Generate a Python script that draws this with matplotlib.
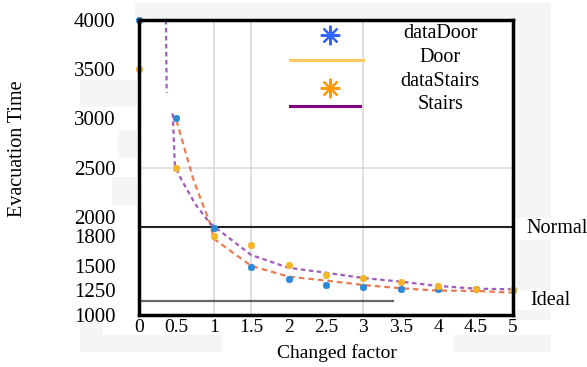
import numpy as np
import matplotlib
matplotlib.use("Agg")
import matplotlib.pyplot as plt
from matplotlib.patches import Rectangle
import matplotlib.transforms as mtransforms

# ---- data ----
x_data = [0, 0.5, 1, 1.5, 2, 2.5, 3, 3.5, 4, 4.5, 5]
data_door = [4000, 3000, 1880, 1491, 1366, 1310, 1288, 1268, 1268, 1268, 1250]
data_stairs = [3500, 2500, 1800, 1712, 1508, 1407, 1376, 1339, 1295, 1268, 1258]

door_x = [0.5, 0.73, 0.95, 1.0, 1.5, 2, 2.5, 3, 3.5, 4, 4.5, 5]
door_y = [2980, 2370, 1932, 1775, 1500, 1390, 1350, 1305, 1272, 1248, 1245, 1227]

stairs_x = [0.36, 0.37, np.nan, 0.45, 0.48, 0.57, 0.75, 0.95, 1.5, 2, 2.5, 3, 3.5, 4, 4.5, 5]
stairs_y = [4000, 3260, np.nan, 3050, 2510, 2373, 2130, 1932, 1610, 1480, 1430, 1376, 1339, 1295, 1268, 1261]

normal_level = 1890
ideal_level = 1140
ideal_span = [0, 3.4]

x_ticks = [0, 0.5, 1, 1.5, 2, 2.5, 3, 3.5, 4, 4.5, 5]
x_ticklabels = ["0", "0.5", "1", "1.5", "2", "2.5", "3", "3.5", "4", "4.5", "5"]
y_ticks = [1000, 1250, 1500, 1800, 2000, 2500, 3000, 3500, 4000]
y_ticklabels = ["1000", "1250", "1500", "1800", "2000", "2500", "3000", "3500", "4000"]
grid_x = [1, 1.5, 3]
grid_y = [2500]

legend_labels = ["dataDoor", "Door", "dataStairs", "Stairs"]

# ---- figure ----
W, H = 587, 367
plt.rcParams['font.family'] = ['Liberation Serif', 'DejaVu Serif']
fig = plt.figure(figsize=(W / 100, H / 100), dpi=100)
fig.patch.set_facecolor('white')

def px_rect(x0, y0, x1, y1, color='#f5f5f5'):
    r = Rectangle((x0 / W, 1 - y1 / H), (x1 - x0) / W, (y1 - y0) / H,
                  transform=fig.transFigure, facecolor=color, edgecolor='none', zorder=-5)
    fig.patches.append(r)

# light grey background patches
px_rect(135, 3, 551, 20)
px_rect(80, 80, 137, 107)
px_rect(118, 130, 137, 158)
px_rect(112, 177, 137, 205)
px_rect(80, 320, 103, 352)
px_rect(80, 335, 222, 352)
px_rect(454, 335, 551, 352)
px_rect(514, 20, 551, 218)
px_rect(514, 240, 551, 290)
px_rect(514, 310, 551, 320)

ax = fig.add_axes([139 / W, 1 - 315 / H, (513 - 139) / W, (315 - 20) / H])
ax.set_xlim(0, 5)
ax.set_ylim(1000, 4000)

for gx in grid_x:
    ax.axvline(gx, color='#d9d9d9', lw=1.2, zorder=1)
for gy in grid_y:
    ax.axhline(gy, color='#dcdcdc', lw=1.2, zorder=1)

ax.axhline(normal_level, color='#222222', lw=1.5, zorder=2)
ax.plot(ideal_span, [ideal_level, ideal_level], color='#333333', lw=1.6, alpha=0.75, zorder=2)

ax.plot(door_x, door_y, color='#ef7a4d', lw=1.6, ls=(0, (2.5, 1.8)), zorder=3)
ax.plot(stairs_x, stairs_y, color='#a05bbd', lw=1.6, ls=(0, (2.0, 1.6)), zorder=3)

ax.plot(x_data, data_door, ls='none', marker=(8, 2, 0), ms=5, mew=1.3,
        color='#2f8ad6', zorder=4, clip_on=False)
ax.plot(x_data, data_stairs, ls='none', marker=(8, 2, 0), ms=5, mew=1.3,
        color='#f5b52a', zorder=4, clip_on=False)

# legend (manual layout to mimic the reference)
tA = ax.transAxes
ax.plot([0.511], [0.949], transform=tA, marker=(8, 2, 0), ms=14, mew=1.6,
        color='#3366ff', ls='none', clip_on=False, zorder=5)
ax.plot([0.404, 0.599], [0.864, 0.864], transform=tA, color='#ffc862', lw=2.2,
        clip_on=False, zorder=5)
ax.plot([0.511], [0.769], transform=tA, marker=(8, 2, 0), ms=14, mew=1.6,
        color='#ff9a00', ls='none', clip_on=False, zorder=5)
ax.plot([0.404, 0.591], [0.708, 0.708], transform=tA, color='#800080', lw=2.2,
        clip_on=False, zorder=5)
for lab, yy in zip(legend_labels, [0.953, 0.873, 0.790, 0.712]):
    ax.text(0.805, yy, lab, transform=tA, ha='center', va='center', fontsize=14.5)

# Normal / Ideal labels
blend = mtransforms.blended_transform_factory(ax.transAxes, ax.transData)
ax.text(1.036, 1875, "Normal", transform=blend, ha='left', va='center', fontsize=14.5, clip_on=False)
ax.text(1.045, 1150, "Ideal", transform=blend, ha='left', va='center', fontsize=14.5, clip_on=False)

ax.set_xticks(x_ticks)
ax.set_xticklabels(x_ticklabels, fontsize=14)
ax.set_yticks(y_ticks)
ax.set_yticklabels(y_ticklabels, fontsize=15)
ax.tick_params(axis='x', length=0, pad=3)
ax.tick_params(axis='y', length=0, pad=17)

for s in ax.spines.values():
    s.set_linewidth(2.5)
    s.set_color('black')
    s.set_zorder(6)

ax.set_xlabel("Changed factor", fontsize=14)
ax.set_ylabel("Evacuation Time", fontsize=14.5)
ax.xaxis.label.set_va('center')
ax.yaxis.label.set_va('center')
ax.xaxis.set_label_coords(0.529, -0.128)
ax.yaxis.set_label_coords(-0.326, 0.563)

fig.savefig("out.png", dpi=100)
